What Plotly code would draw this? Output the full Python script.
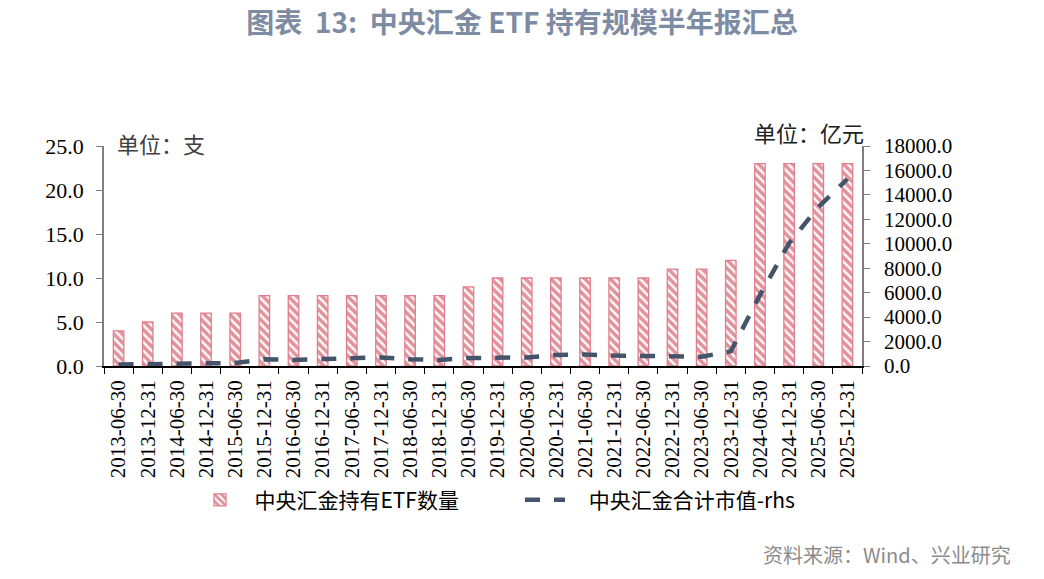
import plotly.graph_objects as go

dates = ["2013-06-30", "2013-12-31", "2014-06-30", "2014-12-31", "2015-06-30", "2015-12-31",
         "2016-06-30", "2016-12-31", "2017-06-30", "2017-12-31", "2018-06-30", "2018-12-31",
         "2019-06-30", "2019-12-31", "2020-06-30", "2020-12-31", "2021-06-30", "2021-12-31",
         "2022-06-30", "2022-12-31", "2023-06-30", "2023-12-31", "2024-06-30", "2024-12-31",
         "2025-06-30", "2025-12-31"]
etf_count = [4, 5, 6, 6, 6, 8, 8, 8, 8, 8, 8, 8, 9, 10, 10, 10, 10, 10, 10, 11, 11, 12, 23, 23, 23, 23]
market_value = [120, 150, 250, 200, 250, 550, 500, 570, 650, 700, 550, 500, 650, 680, 700, 900,
                950, 850, 800, 750, 760, 1200, 5800, 10050, 13000, 15300]

left_ticks = [0, 5, 10, 15, 20, 25]
right_ticks = [0, 2000, 4000, 6000, 8000, 10000, 12000, 14000, 16000, 18000]

serif = "Liberation Serif, Times New Roman, serif"
cjk = "Noto Sans CJK SC, Noto Sans, sans-serif"
nb = "\u00a0"

fig = go.Figure()
fig.add_trace(go.Bar(
    x=dates, y=etf_count, name=nb * 2 + "中央汇金持有ETF数量", yaxis="y",
    width=0.36,
    marker=dict(color="white", line=dict(color="#E07F8B", width=1.3),
                pattern=dict(shape="\\", fgcolor="#C62539", bgcolor="white", size=6, solidity=0.6)),
))
fig.add_trace(go.Scatter(
    x=dates, y=market_value, name=nb * 4 + "中央汇金合计市值-rhs", yaxis="y2", mode="lines",
    line=dict(color="#44546A", width=4.5, dash="15px,14px"),
))

fig.update_layout(
    width=1044, height=579,
    margin=dict(l=104, r=182, t=146, b=213),
    plot_bgcolor="white", paper_bgcolor="white",
    title=dict(text="<b>图表  13:  中央汇金 ETF 持有规模半年报汇总</b>", x=0.5, xref="container",
               y=1 - 23 / 579, yref="container", xanchor="center", yanchor="middle",
               font=dict(family=cjk, size=28, color="#7D8CA3")),
    xaxis=dict(type="category", tickangle=-90, tickson="boundaries", ticks="outside", ticklen=6,
               tickcolor="black", showline=True, linecolor="black", linewidth=1.5,
               ticklabelstandoff=4,
               tickfont=dict(family=serif, size=21, color="black"), showgrid=False),
    yaxis=dict(range=[0, 25], tickvals=left_ticks, ticktext=[f"{v:.1f}" for v in left_ticks],
               ticks="outside", ticklen=6, tickcolor="#7F7F7F", showline=True, linecolor="#7F7F7F",
               linewidth=1.5, showgrid=False, zeroline=False, ticklabelstandoff=8,
               tickfont=dict(family=serif, size=22, color="black")),
    yaxis2=dict(range=[0, 18000], tickvals=right_ticks, ticktext=[f"{v:.1f}" for v in right_ticks],
                overlaying="y", side="right", ticks="outside", ticklen=6, tickcolor="#7F7F7F",
                showline=True, linecolor="#7F7F7F", linewidth=1.5, showgrid=False, zeroline=False,
                ticklabelstandoff=10,
                tickfont=dict(family=serif, size=21, color="black")),
    legend=dict(orientation="h", x=(195 - 104) / 758, xanchor="left", y=-0.61, yanchor="middle",
                font=dict(family=cjk, size=21, color="black"), itemwidth=40,
                traceorder="normal", entrywidthmode="pixels", entrywidth=270),
    showlegend=True,
)

fig.add_annotation(text="单位：支", xref="paper", yref="paper", x=0.015, y=1.014,
                   xanchor="left", yanchor="middle", showarrow=False,
                   font=dict(family=cjk, size=22, color="#404040"))
fig.add_annotation(text="单位：亿元", xref="paper", yref="paper", x=1.005, y=1.064,
                   xanchor="right", yanchor="middle", showarrow=False,
                   font=dict(family=cjk, size=22, color="#202020"))
fig.add_annotation(text="资料来源：Wind、兴业研究", xref="paper", yref="paper", x=1.199, y=-0.859,
                   xanchor="right", yanchor="middle", showarrow=False,
                   font=dict(family=cjk, size=20, color="#8C8C8C"))

fig.write_html("out.html")
